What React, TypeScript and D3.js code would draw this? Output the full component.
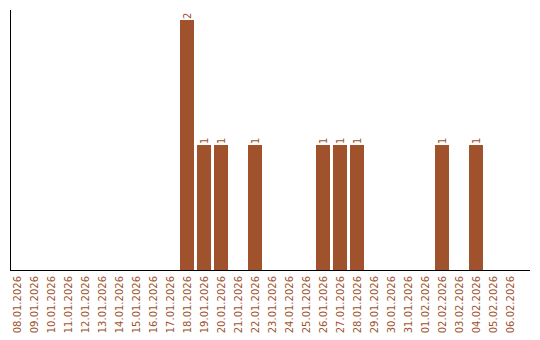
import React from "react";
import * as d3 from "d3";

const dates = [
  "08.01.2026","09.01.2026","10.01.2026","11.01.2026","12.01.2026","13.01.2026",
  "14.01.2026","15.01.2026","16.01.2026","17.01.2026","18.01.2026","19.01.2026",
  "20.01.2026","21.01.2026","22.01.2026","23.01.2026","24.01.2026","25.01.2026",
  "26.01.2026","27.01.2026","28.01.2026","29.01.2026","30.01.2026","31.01.2026",
  "01.02.2026","02.02.2026","03.02.2026","04.02.2026","05.02.2026","06.02.2026",
];
const counts = [0,0,0,0,0,0,0,0,0,0,2,1,1,0,1,0,0,0,1,1,1,0,0,0,0,1,0,1,0,0];

const W = 540, H = 340;
const color = "#a0522d";

export default function App() {
  const x = d3.scaleBand<string>().domain(dates).range([10, 520]).padding(0);
  const y = d3.scaleLinear().domain([0, 2]).range([270, 20]);
  const bw = x.bandwidth() - 3;
  return (
    <svg width={W} height={H} style={{ position: "absolute", left: 0, top: 0 }}
      fontFamily="DejaVu Sans" fontSize={10}>
      {dates.map((d, i) => {
        const v = counts[i];
        const bx = x(d)!;
        const cx = bx + bw / 2;
        return (
          <g key={d}>
            {v > 0 && (
              <>
                <rect x={bx} y={y(v)} width={bw} height={y(0) - y(v)} fill={color} />
                <text transform={`translate(${cx + 3.5},${y(v) - 1}) rotate(-90)`}
                  fill={color} fontSize={10}>{v}</text>
              </>
            )}
            <text transform={`translate(${cx + 3.5},${276}) rotate(-90)`}
              fill={color} textAnchor="end">{d}</text>
          </g>
        );
      })}
      <line x1={10.5} x2={10.5} y1={10} y2={270} stroke="#000" />
      <line x1={10} x2={530} y1={270.5} y2={270.5} stroke="#000" />
    </svg>
  );
}
